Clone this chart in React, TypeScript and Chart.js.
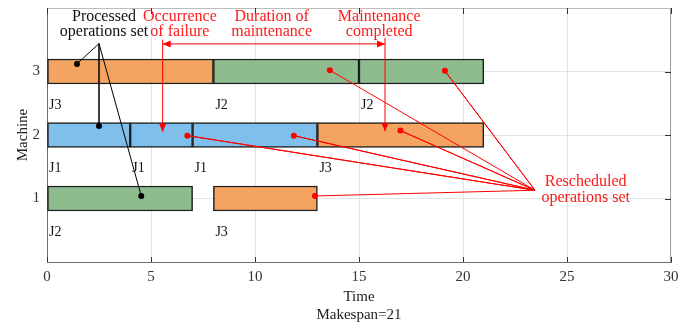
import React, { useEffect, useRef } from 'react';
import { Chart, registerables } from 'chart.js';

Chart.register(...registerables);

// ---------- data ----------
const machines = [3, 3, 3, 2, 2, 2, 2, 1, 1];
const startTimes = [0, 8, 15, 0, 4, 7, 13, 0, 8];
const endTimes = [8, 15, 21, 4, 7, 13, 21, 7, 13];
const jobs = ['J3', 'J2', 'J2', 'J1', 'J1', 'J1', 'J3', 'J2', 'J3'];
const jobColors: Record<string, string> = { J1: '#7fbfeb', J2: '#8fbc8f', J3: '#f4a460' };

const xMin = 0;
const xMax = 30;
const xStep = 5;
const yMin = 0;
const yMax = 4;
const yTickValues = [1, 2, 3];

const processedDotsX = [1.44, 2.5, 4.53];
const processedDotsY = [3.12, 2.14, 1.04];
const processedHubX = 2.5;
const processedHubY = 3.44;

const rescheduledDotsX = [13.6, 19.13, 6.75, 11.87, 16.99, 12.88];
const rescheduledDotsY = [3.02, 3.01, 1.99, 1.99, 2.07, 1.04];
const rescheduledHubX = 23.46;
const rescheduledHubY = 1.13;

const failureTime = 5.56;
const maintenanceEnd = 16.25;
const maintenanceArrowY = 3.435;
const failureArrowTop = 3.5;
const failureArrowTip = 2.05;
const completedArrowTop = 3.53;
const completedArrowTip = 2.06;

const annotationTexts = [
  ['Processed', 'operations set'],
  ['Occurrence', 'of failure'],
  ['Duration of', 'maintenance'],
  ['Maintenance', 'completed'],
  ['Rescheduled', 'operations set'],
];
const annotationX = [2.74, 6.39, 10.8, 15.97, 25.9];
const annotationLine1Y = [3.8, 3.8, 3.8, 3.8, 1.193];
const annotationLine2Y = [3.557, 3.557, 3.557, 3.557, 0.947];
const annotationColors = ['#111111', '#ff1a1a', '#ff1a1a', '#ff1a1a', '#ff1a1a'];

const xTitle = ['Time', 'Makespan=21'];
const yTitle = 'Machine';

const FONT = "'Liberation Serif', 'Times New Roman', serif";

function hubLine(dx: number[], dy: number[], hx: number, hy: number) {
  const pts: { x: number; y: number }[] = [];
  const radii: number[] = [];
  dx.forEach((x, i) => {
    if (i > 0) {
      pts.push({ x: hx, y: hy });
      radii.push(0);
    }
    pts.push({ x, y: dy[i] });
    radii.push(3);
  });
  if (dx.length === 1) {
    pts.push({ x: hx, y: hy });
    radii.push(0);
  }
  return { pts, radii };
}

const overlayPlugin = {
  id: 'overlay',
  beforeDatasetsDraw(chart: any) {
    const { ctx, chartArea: a, scales } = chart;
    const x = scales.x;
    const y = scales.y;
    ctx.save();
    // top & right borders
    ctx.lineWidth = 1;
    ctx.strokeStyle = '#bdbdbd';
    ctx.beginPath();
    ctx.moveTo(a.left, a.top + 0.5);
    ctx.lineTo(a.right, a.top + 0.5);
    ctx.stroke();
    ctx.strokeStyle = '#9a9a9a';
    ctx.beginPath();
    ctx.moveTo(a.right - 0.5, a.top);
    ctx.lineTo(a.right - 0.5, a.bottom);
    ctx.stroke();
    // inner ticks
    ctx.strokeStyle = '#333';
    ctx.beginPath();
    for (let v = xMin; v <= xMax; v += xStep) {
      const px = Math.round(x.getPixelForValue(v)) + 0.5;
      ctx.moveTo(px, a.bottom);
      ctx.lineTo(px, a.bottom - 5);
      ctx.moveTo(px, a.top);
      ctx.lineTo(px, a.top + 6);
    }
    yTickValues.forEach((v) => {
      const py = Math.round(y.getPixelForValue(v)) + 0.5;
      ctx.moveTo(a.left, py);
      ctx.lineTo(a.left + 6, py);
      ctx.moveTo(a.right, py);
      ctx.lineTo(a.right - 6, py);
    });
    ctx.stroke();
    ctx.restore();
  },
  afterDatasetsDraw(chart: any) {
    const { ctx, scales } = chart;
    const x = scales.x;
    const y = scales.y;
    ctx.save();
    // job labels
    ctx.font = `14px ${FONT}`;
    ctx.fillStyle = '#111';
    ctx.textAlign = 'left';
    ctx.textBaseline = 'alphabetic';
    jobs.forEach((j, i) => {
      ctx.fillText(j, x.getPixelForValue(startTimes[i]) + 2, y.getPixelForValue(machines[i] - 0.59));
    });

    // arrows
    const red = '#ff0000';
    ctx.strokeStyle = red;
    ctx.fillStyle = red;
    ctx.lineWidth = 1;
    const head = (tx: number, ty: number, dirX: number, dirY: number) => {
      const len = 8;
      const hw = 3.5;
      const bx = tx - dirX * len;
      const by = ty - dirY * len;
      ctx.beginPath();
      ctx.moveTo(tx, ty);
      ctx.lineTo(bx - dirY * hw, by + dirX * hw);
      ctx.lineTo(bx + dirY * hw, by - dirX * hw);
      ctx.closePath();
      ctx.fill();
    };
    const fx = x.getPixelForValue(failureTime);
    const mx = x.getPixelForValue(maintenanceEnd);
    const ay = y.getPixelForValue(maintenanceArrowY);
    ctx.beginPath();
    ctx.moveTo(fx, ay);
    ctx.lineTo(mx, ay);
    ctx.moveTo(fx, y.getPixelForValue(failureArrowTop));
    ctx.lineTo(fx, y.getPixelForValue(failureArrowTip));
    ctx.moveTo(mx, y.getPixelForValue(completedArrowTop));
    ctx.lineTo(mx, y.getPixelForValue(completedArrowTip));
    ctx.stroke();
    head(fx, ay, -1, 0);
    head(mx, ay, 1, 0);
    head(fx, y.getPixelForValue(failureArrowTip), 0, 1);
    head(mx, y.getPixelForValue(completedArrowTip), 0, 1);

    // annotation texts
    ctx.font = `16px ${FONT}`;
    ctx.textAlign = 'center';
    ctx.textBaseline = 'alphabetic';
    annotationTexts.forEach((lines, i) => {
      ctx.fillStyle = annotationColors[i];
      const px = x.getPixelForValue(annotationX[i]);
      ctx.fillText(lines[0], px, y.getPixelForValue(annotationLine1Y[i]));
      ctx.fillText(lines[1], px, y.getPixelForValue(annotationLine2Y[i]));
    });
    ctx.restore();
  },
};

export default function App() {
  const canvasRef = useRef<HTMLCanvasElement | null>(null);

  useEffect(() => {
    document.body.style.margin = '0';
    const canvas = canvasRef.current;
    if (!canvas) return;

    const processed = hubLine(processedDotsX, processedDotsY, processedHubX, processedHubY);
    const rescheduled = hubLine(rescheduledDotsX, rescheduledDotsY, rescheduledHubX, rescheduledHubY);

    const chart = new Chart(canvas, {
      type: 'bar',
      data: {
        datasets: [
          {
            type: 'line',
            data: processed.pts,
            borderColor: '#000',
            borderWidth: 1,
            pointRadius: processed.radii,
            pointBackgroundColor: '#000',
            pointBorderColor: '#000',
            pointBorderWidth: 0,
            fill: false,
            tension: 0,
            order: 1,
          } as any,
          {
            type: 'line',
            data: rescheduled.pts,
            borderColor: '#ff0000',
            borderWidth: 1,
            pointRadius: rescheduled.radii,
            pointBackgroundColor: '#ff0000',
            pointBorderColor: '#ff0000',
            pointBorderWidth: 0,
            fill: false,
            tension: 0,
            order: 1,
          } as any,
          {
            type: 'bar',
            indexAxis: 'y',
            data: machines.map((m, i) => ({ x: [startTimes[i], endTimes[i]], y: m })),
            backgroundColor: jobs.map((j) => jobColors[j]),
            borderColor: '#1e1e1e',
            borderWidth: 1.5,
            borderSkipped: false,
            barThickness: 25,
            grouped: false,
            order: 10,
          } as any,
        ],
      },
      options: {
        animation: false,
        responsive: false,
        maintainAspectRatio: false,
        layout: { padding: { top: 8, right: 25, left: 0, bottom: 0 } },
        plugins: {
          legend: { display: false },
          tooltip: { enabled: false },
        },
        scales: {
          x: {
            type: 'linear',
            min: xMin,
            max: xMax,
            offset: false,
            ticks: {
              stepSize: xStep,
              maxRotation: 0,
              padding: 6,
              color: '#333',
              font: { family: FONT, size: 15, lineHeight: 1.2 },
            },
            grid: {
              offset: false,
              drawTicks: false,
              color: (c: any) =>
                c.tick && c.tick.value > xMin && c.tick.value < xMax ? '#e3e3e3' : 'rgba(0,0,0,0)',
            },
            border: { display: true, color: '#6e6e6e', width: 1 },
            title: {
              display: true,
              text: xTitle,
              color: '#222',
              font: { family: FONT, size: 15, lineHeight: 1.2 },
              padding: { top: 0, bottom: 5 },
            },
            afterFit: (s: any) => {
              s.height = 67;
              s.paddingLeft = 0;
              s.paddingRight = 0;
            },
          },
          y: {
            type: 'linear',
            min: yMin,
            max: yMax,
            offset: false,
            ticks: {
              stepSize: 1,
              padding: 7,
              color: '#333',
              font: { family: FONT, size: 15, lineHeight: 1.2 },
              callback: (v: any) => (yTickValues.includes(Number(v)) ? String(v) : null),
            },
            grid: {
              offset: false,
              drawTicks: false,
              color: (c: any) =>
                c.tick && yTickValues.includes(c.tick.value) ? '#e3e3e3' : 'rgba(0,0,0,0)',
            },
            border: { display: true, color: '#6e6e6e', width: 1 },
            title: {
              display: true,
              text: yTitle,
              color: '#222',
              font: { family: FONT, size: 15, lineHeight: 1.2 },
              padding: { top: 14, bottom: 0 },
            },
            afterFit: (s: any) => {
              s.width = 47;
              s.paddingTop = 0;
              s.paddingBottom = 0;
            },
          },
        },
      } as any,
      plugins: [overlayPlugin],
    });

    return () => {
      chart.destroy();
    };
  }, []);

  return (
    <div style={{ width: 696, height: 329 }}>
      <canvas ref={canvasRef} width={696} height={329} />
    </div>
  );
}
